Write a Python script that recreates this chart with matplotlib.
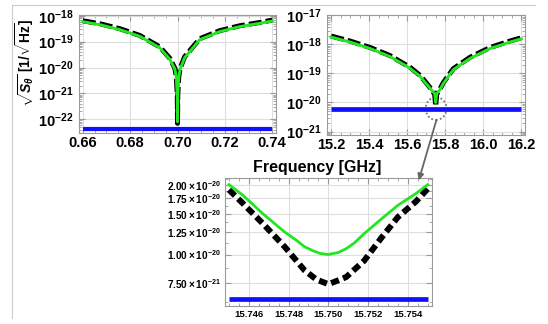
import numpy as np
import matplotlib.pyplot as plt
from matplotlib import ticker
from matplotlib.patches import Ellipse, FancyArrowPatch
from matplotlib.lines import Line2D

plt.rcParams['font.family'] = ['Liberation Sans', 'DejaVu Sans']
plt.rcParams['font.weight'] = 'bold'
plt.rcParams['mathtext.fontset'] = 'custom'
plt.rcParams['mathtext.rm'] = 'Liberation Sans:bold'
plt.rcParams['mathtext.bf'] = 'Liberation Sans:bold'
plt.rcParams['mathtext.it'] = 'Liberation Sans:bold:italic'

# left panel, resonance near 0.70 GHz
f1_green = [0.6600, 0.6673, 0.6757, 0.6841, 0.6925, 0.6967, 0.6989, 0.6995, 0.6999, 0.7000,
            0.7001, 0.7005, 0.7011, 0.7030, 0.7094, 0.7178, 0.7262, 0.7347, 0.7400]
s1_green = [5.9e-19, 4.5e-19, 2.9e-19, 1.6e-19, 5.8e-20, 2.1e-20, 8.7e-21, 4.0e-21, 8.0e-22, 8.0e-23,
            8.0e-22, 4.0e-21, 8.7e-21, 2.4e-20, 1.2e-19, 2.45e-19, 3.8e-19, 5.1e-19, 6.3e-19]
f1_black = f1_green
s1_black = [6.4e-19, 4.9e-19, 3.15e-19, 1.73e-19, 6.3e-20, 2.3e-20, 9.3e-21, 4.2e-21, 8.4e-22, 7.0e-23,
            8.4e-22, 4.2e-21, 9.3e-21, 2.6e-20, 1.3e-19, 2.65e-19, 4.1e-19, 5.5e-19, 6.8e-19]
f1_floor = [0.66, 0.74]
s1_floor = [4.2e-23, 4.2e-23]
y1_ticks = [1e-22, 1e-21, 1e-20, 1e-19, 1e-18]

# right panel, resonance near 15.75 GHz
f2_green = [15.200, 15.300, 15.405, 15.510, 15.615, 15.668, 15.703, 15.730, 15.745, 15.750,
            15.755, 15.770, 15.790, 15.843, 15.931, 16.036, 16.140, 16.200]
s2_green = [1.78e-18, 1.2e-18, 7.2e-19, 3.8e-19, 1.5e-19, 7.9e-20, 4.2e-20, 2.6e-20, 2.0e-20, 1.0e-20,
            2.0e-20, 2.6e-20, 4.5e-20, 1.35e-19, 3.3e-19, 7.2e-19, 1.2e-18, 1.55e-18]
f2_black = f2_green
s2_black = [1.93e-18, 1.3e-18, 7.8e-19, 4.1e-19, 1.62e-19, 8.5e-20, 4.5e-20, 2.7e-20, 1.88e-20, 7.4e-21,
            1.93e-20, 2.7e-20, 4.8e-20, 1.46e-19, 3.6e-19, 7.8e-19, 1.3e-18, 1.68e-18]
f2_floor = [15.2, 16.2]
s2_floor = [5.8e-21, 5.8e-21]
y2_ticks = [1e-21, 1e-20, 1e-19, 1e-18, 1e-17]

# zoom panel
f3_green = [15.7450, 15.7457, 15.7467, 15.7478, 15.7484, 15.7488, 15.7492, 15.7496, 15.7500,
            15.7505, 15.7509, 15.7513, 15.7518, 15.7527, 15.7535, 15.7544, 15.7550]
s3_green = [2.00e-20, 1.80e-20, 1.50e-20, 1.25e-20, 1.15e-20, 1.08e-20, 1.04e-20, 1.01e-20, 1.00e-20,
            1.02e-20, 1.06e-20, 1.12e-20, 1.23e-20, 1.43e-20, 1.63e-20, 1.83e-20, 2.00e-20]
f3_black = [15.7450, 15.7457, 15.7467, 15.7478, 15.7488, 15.7494, 15.7500, 15.7506, 15.7509,
            15.7518, 15.7527, 15.7535, 15.7544, 15.7550]
s3_black = [1.90e-20, 1.66e-20, 1.36e-20, 1.08e-20, 8.55e-21, 7.8e-21, 7.45e-21, 7.8e-21, 8.0e-21,
            9.4e-21, 1.19e-20, 1.45e-20, 1.69e-20, 1.92e-20]
f3_floor = [15.745, 15.755]
s3_floor = [6.4e-21, 6.4e-21]

y3_ticks = [7.5e-21, 1.0e-20, 1.25e-20, 1.5e-20, 1.75e-20, 2.0e-20]
y3_labels = [r'$\mathbf{7.50\times10^{-21}}$', r'$\mathbf{1.00\times10^{-20}}$',
             r'$\mathbf{1.25\times10^{-20}}$', r'$\mathbf{1.50\times10^{-20}}$',
             r'$\mathbf{1.75\times10^{-20}}$', r'$\mathbf{2.00\times10^{-20}}$']
x3_ticks = [15.746, 15.748, 15.750, 15.752, 15.754]

green = '#22e622'
blue = '#1010ff'
gray = '#9a9a9a'


def style(ax, size):
    for s in ax.spines.values():
        s.set_color(gray)
        s.set_linewidth(0.8)
    ax.tick_params(which='both', direction='in', top=True, right=True, color=gray,
                   labelcolor='black', labelsize=size)
    ax.tick_params(which='major', length=4)
    ax.tick_params(which='minor', length=2)
    ax.grid(True, which='major', color='#dedede', lw=0.8)
    ax.set_axisbelow(True)


def decade(v, pos):
    return r'$\mathbf{10^{%d}}$' % round(np.log10(v))


fig = plt.figure(figsize=(5.48, 3.24), dpi=100)

ax1 = fig.add_axes([0.1442, 0.5895, 0.3595, 0.3650])
ax1.plot(f1_floor, s1_floor, color=blue, lw=3.0, solid_capstyle='butt')
ax1.plot(f1_black, s1_black, color='black', lw=3.6, dashes=(2.6, 0.8))
ax1.plot(f1_green, s1_green, color=green, lw=2.1)
ax1.set_yscale('log')
ax1.set_xlim(0.6584, 0.7416)
ax1.set_ylim(10**-22.53, 10**-17.96)
ax1.xaxis.set_major_locator(ticker.MultipleLocator(0.02))
ax1.xaxis.set_minor_locator(ticker.MultipleLocator(0.005))
ax1.xaxis.set_major_formatter(ticker.FormatStrFormatter('%.2f'))
ax1.set_yticks(y1_ticks)
ax1.yaxis.set_minor_locator(ticker.LogLocator(base=10, subs=np.arange(2, 10), numticks=10))
ax1.yaxis.set_major_formatter(ticker.FuncFormatter(decade))
ax1.yaxis.set_minor_formatter(ticker.NullFormatter())
style(ax1, 10.5)
ax1.tick_params(axis='x', pad=2)
ax1.tick_params(axis='y', pad=4)

ax2 = fig.add_axes([0.5973, 0.5833, 0.3608, 0.3712])
ax2.plot(f2_floor, s2_floor, color=blue, lw=3.4, solid_capstyle='butt')
ax2.plot(f2_black, s2_black, color='black', lw=3.6, dashes=(2.6, 0.8))
ax2.plot(f2_green, s2_green, color=green, lw=2.1)
ax2.set_yscale('log')
ax2.set_xlim(15.18, 16.22)
ax2.set_ylim(10**-21.12, 10**-16.98)
ax2.xaxis.set_major_locator(ticker.MultipleLocator(0.2))
ax2.xaxis.set_minor_locator(ticker.MultipleLocator(0.05))
ax2.xaxis.set_major_formatter(ticker.FormatStrFormatter('%.1f'))
ax2.set_yticks(y2_ticks)
ax2.yaxis.set_minor_locator(ticker.LogLocator(base=10, subs=np.arange(2, 10), numticks=10))
ax2.yaxis.set_major_formatter(ticker.FuncFormatter(decade))
ax2.yaxis.set_minor_formatter(ticker.NullFormatter())
style(ax2, 10.5)
ax2.tick_params(axis='x', pad=2)
ax2.tick_params(axis='y', pad=4)
ax2.add_patch(Ellipse((0.55, 0.22), 0.105, 0.19, transform=ax2.transAxes, fill=False,
                      edgecolor='#777777', lw=1.3, ls=(0, (1, 1.2)), clip_on=False))

ax3 = fig.add_axes([0.4106, 0.0556, 0.3772, 0.3941])
ax3.plot(f3_floor, s3_floor, color=blue, lw=3.4, solid_capstyle='butt')
ax3.plot(f3_black, s3_black, color='black', lw=4.3, dashes=(1.4, 0.75))
ax3.plot(f3_green, s3_green, color=green, lw=2.0)
ax3.set_yscale('log')
ax3.set_xlim(15.7448, 15.7552)
ax3.set_ylim(6.0e-21, 2.13e-20)
ax3.set_xticks(x3_ticks)
ax3.xaxis.set_major_formatter(ticker.FormatStrFormatter('%.3f'))
ax3.xaxis.set_minor_locator(ticker.MultipleLocator(0.0005))
ax3.set_yticks(y3_ticks)
ax3.set_yticklabels(y3_labels)
ax3.yaxis.set_minor_locator(ticker.MultipleLocator(0.125e-20))
ax3.yaxis.set_minor_formatter(ticker.NullFormatter())
style(ax3, 6.8)
ax3.tick_params(axis='y', labelsize=7.2, pad=3)
ax3.tick_params(axis='x', pad=3)

fig.text(0.045, 0.807, r'$\sqrt{S_{\theta}}$ [1/$\sqrt{\mathbf{Hz}}$]', rotation=90,
         ha='center', va='center', fontsize=10)
fig.text(0.578, 0.484, 'Frequency [GHz]', ha='center', va='center', fontsize=11.5,
         fontweight='bold')

fig.add_artist(FancyArrowPatch((437 / 548, 1 - 118 / 324), (418 / 548, 1 - 183 / 324),
                               transform=fig.transFigure, arrowstyle='-|>', mutation_scale=9,
                               color='#666666', lw=1.3))
fig.add_artist(Line2D([12 / 548, 535 / 548], [1 - 5 / 324, 1 - 5 / 324], color='#cccccc', lw=0.8))
fig.add_artist(Line2D([12 / 548, 12 / 548], [1 - 5 / 324, 1 - 318 / 324], color='#cccccc', lw=0.8))

fig.savefig('out.png', dpi=100)
